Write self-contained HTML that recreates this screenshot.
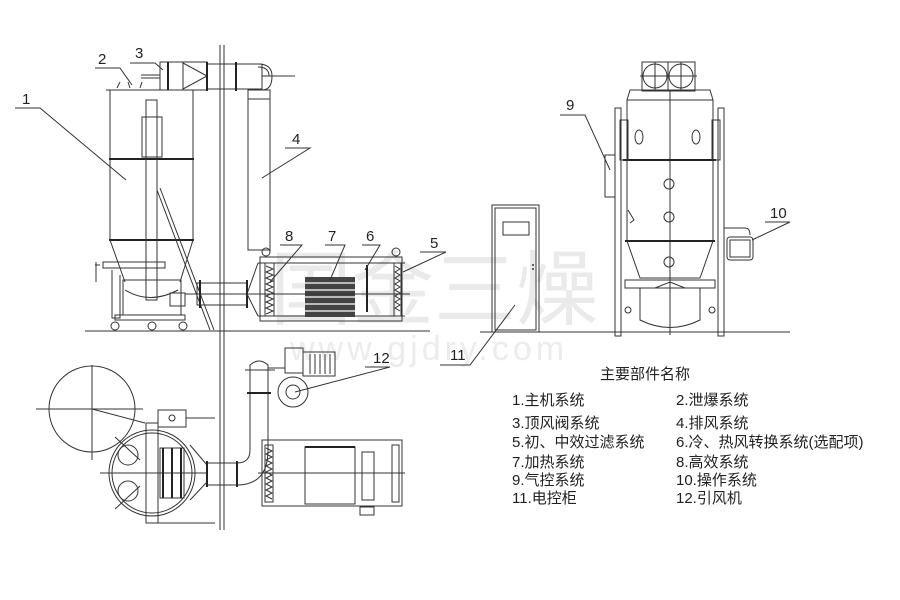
<!DOCTYPE html>
<html><head><meta charset="utf-8"><style>
body{margin:0;background:#fff}
svg{display:block}
text{font-family:"Liberation Sans","Noto Sans CJK SC",sans-serif;fill:#222}
.l{stroke:#333;stroke-width:1;fill:none}
.t{stroke:#222;stroke-width:2;fill:none}
.w{fill:#fff;stroke:#333;stroke-width:1}
</style></head><body>
<svg width="900" height="600" viewBox="0 0 900 600" xmlns="http://www.w3.org/2000/svg">
<!-- watermark -->
<text x="270" y="318" font-size="82" style="fill:#eaeaea" font-family="Noto Sans CJK SC,sans-serif">国金三燥</text>
<text x="290" y="360" font-size="34" style="fill:#ececec" letter-spacing="4">www.gjdry.com</text>

<!-- wall -->
<line class="l" x1="220" y1="45" x2="220" y2="530"/><line class="l" x1="224" y1="45" x2="224" y2="530"/>
<!-- ground lines -->
<line class="l" x1="85" y1="331" x2="430" y2="331"/>
<line class="l" x1="480" y1="332" x2="790" y2="332"/>

<!-- main cylinder -->
<rect class="l" x="110" y="90" width="83" height="150"/>
<line class="t" x1="109" y1="159" x2="194" y2="159"/>
<line class="t" x1="109" y1="240" x2="194" y2="240"/>
<line class="l" x1="106" y1="90" x2="197" y2="90"/>
<path class="l" d="M110 240 L125 282 M193 240 L180 282"/>
<rect class="l" x="146" y="100" width="11" height="200"/>
<rect class="l" x="142" y="117" width="20" height="40"/>
<line class="l" x1="157" y1="190" x2="210" y2="330"/><line class="l" x1="160" y1="188" x2="214" y2="330"/>
<rect class="l" x="103" y="262" width="62" height="6"/>
<path class="l" d="M95 265 L100 265 M96 262 L96 282 M120 275 L120 318 L112 318 L112 270"/>
<rect class="l" x="123" y="280" width="58" height="35"/>
<path class="l" d="M125 290 Q150 305 178 290"/>
<rect class="l" x="115" y="315" width="70" height="5"/>
<circle class="l" cx="115" cy="326" r="4"/><circle class="l" cx="183" cy="326" r="4"/><circle class="l" cx="152" cy="326" r="4"/>
<rect class="l" x="170" y="293" width="15" height="13"/>
<!-- top: explosion + valve -->
<path class="l" d="M117 88 L120 82 M130 88 L128 82 M140 88 L142 82"/>
<rect class="l" x="160" y="62" width="23" height="28"/>
<line class="t" x1="168" y1="62" x2="168" y2="90"/>
<line class="l" x1="141" y1="75" x2="160" y2="75"/><line class="l" x1="141" y1="78" x2="160" y2="78"/>
<path class="l" d="M183 62 L207 62 L207 90 L183 90 M183 63 L207 76 L183 89"/>
<rect class="l" x="207" y="64" width="55" height="25"/>
<line class="t" x1="207" y1="62" x2="207" y2="91"/><line class="t" x1="236" y1="62" x2="236" y2="91"/>
<path class="l" d="M258 64 Q272 64 272 76 Q272 90 262 90 L270 90 M258 67 Q269 67 269 76"/>
<line class="l" x1="262" y1="76" x2="295" y2="76"/>
<!-- vertical exhaust duct -->
<rect class="l" x="248" y="90" width="22" height="160"/>
<line class="l" x1="248" y1="99" x2="270" y2="99"/>
<!-- horizontal duct -->
<rect class="l" x="197" y="283" width="50" height="22"/>
<line class="t" x1="200" y1="280" x2="200" y2="308"/><line class="t" x1="247" y1="280" x2="247" y2="308"/>
<line class="l" x1="185" y1="294" x2="260" y2="294"/>
<!-- box 5-8 -->
<rect class="l" x="260" y="257" width="142" height="64"/>
<line class="l" x1="258" y1="263" x2="405" y2="263"/>
<line class="l" x1="258" y1="316" x2="405" y2="316"/>
<path class="l" d="M247 294 L258 263 M247 294 L258 316"/>
<rect class="l" x="265" y="263" width="9" height="53"/>
<path class="l" d="M266 266 l7 3 l-7 3 l7 3 l-7 3 l7 3 l-7 3 l7 3 l-7 3 l7 3 l-7 3 l7 3 l-7 3 l7 3 l-7 3 l7 3 l-7 3"/>
<rect x="305" y="277" width="50" height="40" fill="#444"/>
<g stroke="#fff" stroke-width="1.2"><line x1="305" y1="283" x2="355" y2="283"/><line x1="305" y1="290" x2="355" y2="290"/><line x1="305" y1="297" x2="355" y2="297"/><line x1="305" y1="304" x2="355" y2="304"/><line x1="305" y1="311" x2="355" y2="311"/></g>
<line class="t" x1="367" y1="265" x2="367" y2="312"/>
<rect class="l" x="394" y="263" width="7" height="53"/>
<path class="l" d="M395 266 l5 3 l-5 3 l5 3 l-5 3 l5 3 l-5 3 l5 3 l-5 3 l5 3 l-5 3 l5 3 l-5 3 l5 3 l-5 3 l5 3"/>
<circle class="l" cx="266" cy="252" r="4"/><circle class="l" cx="396" cy="252" r="4"/>
<line class="l" x1="260" y1="294" x2="410" y2="294"/>

<!-- cabinet 11 -->
<rect class="l" x="492" y="205" width="47" height="127"/>
<rect class="l" x="495" y="208" width="41" height="122"/>
<rect class="l" x="503" y="222" width="26" height="13"/>
<circle cx="533" cy="265" r="1" fill="#333"/><circle cx="533" cy="269" r="1" fill="#333"/>

<!-- right elevation -->
<rect class="l" x="642" y="62" width="53" height="29"/>
<line class="l" x1="668" y1="62" x2="668" y2="91"/>
<circle class="l" cx="655" cy="76" r="12"/><circle class="l" cx="681" cy="76" r="12"/>
<line class="l" x1="640" y1="76" x2="697" y2="76"/><line class="l" x1="655" y1="62" x2="655" y2="90"/><line class="l" x1="681" y1="62" x2="681" y2="90"/>
<path class="l" d="M627 100 L630 90 L710 90 L713 100"/>
<rect class="l" x="627" y="100" width="86" height="141"/>
<line class="l" x1="670" y1="90" x2="670" y2="335"/>
<line class="t" x1="623" y1="160" x2="716" y2="160"/>
<line class="t" x1="625" y1="241" x2="715" y2="241"/>
<ellipse class="l" cx="639" cy="137" rx="4" ry="7"/><ellipse class="l" cx="696" cy="137" rx="4" ry="7"/>
<circle class="l" cx="669" cy="184" r="5"/><circle class="l" cx="669" cy="217" r="5"/><circle class="l" cx="669" cy="262" r="5"/>
<path class="l" d="M627 241 L640 278 L700 278 L713 241"/>
<rect class="l" x="615" y="108" width="6" height="228"/>
<rect class="l" x="718" y="108" width="6" height="228"/>
<rect class="l" x="620" y="120" width="8" height="40"/><rect class="l" x="712" y="120" width="8" height="40"/>
<rect class="l" x="605" y="155" width="10" height="42"/>
<rect class="l" x="625" y="280" width="90" height="8"/>
<path class="l" d="M640 288 L640 320 Q670 335 700 320 L700 288"/>
<path class="l" d="M655 288 L670 282 L685 288"/>
<circle class="l" cx="628" cy="310" r="3"/><circle class="l" cx="712" cy="310" r="3"/>
<path class="l" d="M628 210 l6 10 l-4 3"/>
<path class="l" d="M724 228 L745 228 Q750 228 750 235"/>
<rect class="l" x="727" y="237" width="26" height="23" rx="3"/>
<rect class="l" x="730" y="240" width="20" height="17"/>

<!-- plan view -->
<circle class="l" cx="92" cy="409" r="43"/>
<line class="l" x1="36" y1="409" x2="143" y2="409"/><line class="l" x1="92" y1="365" x2="92" y2="460"/>
<line class="l" x1="92" y1="409" x2="145" y2="423"/>
<circle class="l" cx="152" cy="473" r="43"/>
<circle class="l" cx="152" cy="473" r="40"/>
<line class="l" x1="100" y1="473" x2="206" y2="473"/>
<circle class="l" cx="128" cy="455" r="10"/><circle class="l" cx="128" cy="491" r="10"/>
<line class="l" x1="115" y1="437" x2="140" y2="460"/><line class="l" x1="115" y1="509" x2="140" y2="486"/>
<rect class="l" x="146" y="423" width="12" height="100"/>
<rect class="l" x="158" y="410" width="28" height="17"/><circle class="l" cx="172" cy="418" r="3"/>
<path class="l" d="M186 418 L215 418 M152 523 L215 523"/>
<rect class="l" x="160" y="448" width="24" height="50"/>
<path class="t" d="M163 448 L163 498 M172 448 L172 498 M181 448 L181 498"/>
<path class="l" d="M190 445 L207 465 M190 500 L207 482"/>
<rect class="l" x="207" y="463" width="30" height="22"/>
<line class="t" x1="207" y1="461" x2="207" y2="487"/><line class="t" x1="237" y1="461" x2="237" y2="487"/>
<path class="l" d="M237 463 Q250 463 250 450 L250 365 Q259 357 268 365 L268 450 Q268 485 237 485"/>
<line class="t" x1="247" y1="393" x2="271" y2="393"/>
<line class="l" x1="245" y1="370" x2="275" y2="370"/>
<circle class="l" cx="293" cy="392" r="15"/><circle class="l" cx="293" cy="392" r="7"/>
<rect class="l" x="285" y="348" width="18" height="25"/>
<rect class="l" x="303" y="352" width="32" height="24"/>
<path class="l" d="M310 354 L310 374 M315 354 L315 374 M320 354 L320 374 M325 354 L325 374 M330 354 L330 374"/>
<line class="l" x1="268" y1="368" x2="285" y2="368"/>
<rect class="l" x="262" y="440" width="140" height="66"/>
<rect class="l" x="265" y="445" width="8" height="57"/>
<path class="l" d="M266 448 l6 3 l-6 3 l6 3 l-6 3 l6 3 l-6 3 l6 3 l-6 3 l6 3 l-6 3 l6 3 l-6 3 l6 3 l-6 3 l6 3 l-6 3 l6 3"/>
<rect class="l" x="305" y="447" width="50" height="57"/>
<line class="t" x1="305" y1="447" x2="355" y2="447"/>
<rect class="l" x="362" y="452" width="12" height="48"/>
<rect class="l" x="392" y="445" width="7" height="57"/>
<line class="l" x1="258" y1="473" x2="405" y2="473"/>
<rect class="l" x="360" y="507" width="14" height="8"/>

<!-- leaders -->
<g class="l">
<path d="M15 108 L40 108 L126 180"/>
<path d="M95 68 L120 68 L132 85"/>
<path d="M130 63 L155 63 L163 70"/>
<path d="M285 148 L310 148 L262 178"/>
<path d="M280 245 L302 245 L270 282"/>
<path d="M325 245 L345 245 L330 280"/>
<path d="M362 245 L380 245 L365 270"/>
<path d="M420 252 L446 252 L403 272"/>
<path d="M440 365 L470 365 L515 305"/>
<path d="M560 115 L585 115 L610 170"/>
<path d="M765 222 L790 222 L752 240"/>
<path d="M365 367 L390 367 L295 392"/>
</g>
<g font-size="15">
<text x="22" y="104">1</text><text x="98" y="64">2</text><text x="135" y="58">3</text>
<text x="292" y="144">4</text><text x="430" y="248">5</text><text x="366" y="241">6</text>
<text x="328" y="241">7</text><text x="285" y="241">8</text><text x="566" y="110">9</text>
<text x="770" y="218">10</text><text x="450" y="360">11</text><text x="373" y="363">12</text>
</g>

<!-- legend -->
<g font-size="15">
<text x="600" y="379">主要部件名称</text>
<text x="512" y="405">1.主机系统</text><text x="676" y="405">2.泄爆系统</text>
<text x="512" y="428">3.顶风阀系统</text><text x="676" y="428">4.排风系统</text>
<text x="512" y="447">5.初、中效过滤系统</text><text x="676" y="447">6.冷、热风转换系统(选配项)</text>
<text x="512" y="467">7.加热系统</text><text x="676" y="467">8.高效系统</text>
<text x="512" y="485">9.气控系统</text><text x="676" y="485">10.操作系统</text>
<text x="512" y="503">11.电控柜</text><text x="676" y="503">12.引风机</text>
</g>
</svg>
</body></html>
